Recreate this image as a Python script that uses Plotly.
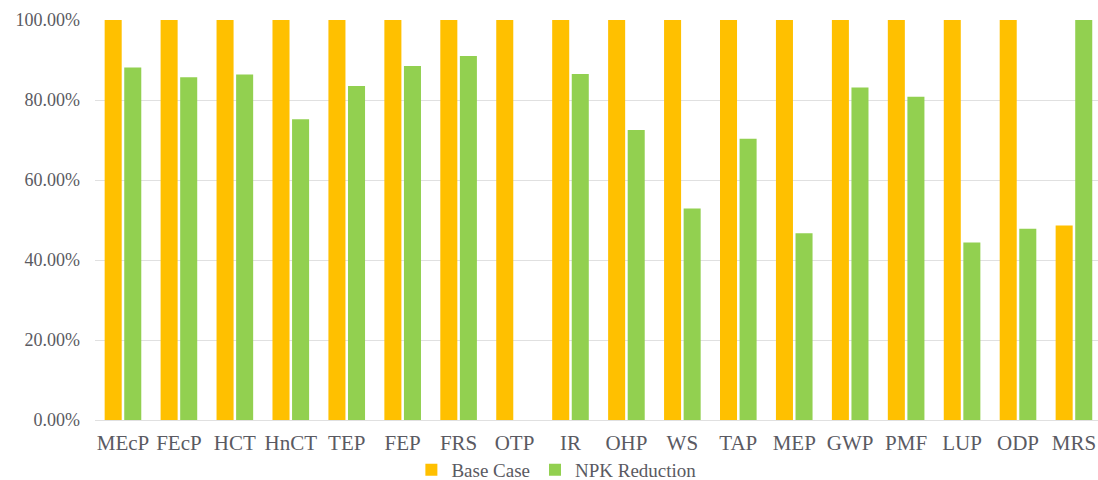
import plotly.graph_objects as go

categories = ["MEcP", "FEcP", "HCT", "HnCT", "TEP", "FEP", "FRS", "OTP", "IR",
              "OHP", "WS", "TAP", "MEP", "GWP", "PMF", "LUP", "ODP", "MRS"]
base_case = [1.0, 1.0, 1.0, 1.0, 1.0, 1.0, 1.0, 1.0, 1.0,
             1.0, 1.0, 1.0, 1.0, 1.0, 1.0, 1.0, 1.0, 0.486]
npk_reduction = [0.881, 0.857, 0.864, 0.752, 0.835, 0.885, 0.910, 0.0, 0.865,
                 0.725, 0.529, 0.703, 0.467, 0.831, 0.808, 0.444, 0.478, 1.0]
y_ticks = [0, 0.2, 0.4, 0.6, 0.8, 1.0]

font_family = "Liberation Serif, Times New Roman, serif"
text_color = "#5A5A62"

fig = go.Figure()
fig.add_trace(go.Bar(x=categories, y=base_case, name="Base Case",
                     marker=dict(color="#FFC000", line=dict(width=0))))
fig.add_trace(go.Bar(x=categories, y=npk_reduction, name="NPK Reduction",
                     marker=dict(color="#92D050", line=dict(width=0))))

fig.update_layout(
    width=1098, height=480,
    margin=dict(l=95, r=0, t=20, b=60, autoexpand=False),
    paper_bgcolor="white", plot_bgcolor="white",
    barmode="group", bargap=0.3, bargroupgap=0.13,
    font=dict(family=font_family, color=text_color, size=16),
    showlegend=True,
    legend=dict(orientation="h", x=0.46, xanchor="center", xref="paper",
                y=0.021, yref="container", yanchor="middle",
                font=dict(size=19, family=font_family, color=text_color),
                itemwidth=30, traceorder="normal"),
    xaxis=dict(range=[-0.5, 17.43], showgrid=False, showline=False, ticks="",
               ticklabelstandoff=8,
               tickfont=dict(size=21, family=font_family, color=text_color)),
    yaxis=dict(range=[0, 1.0], tickvals=y_ticks, tickformat=".2%",
               showgrid=True, gridcolor="#E0E0E0", gridwidth=1,
               zeroline=True, zerolinecolor="#E0E0E0", zerolinewidth=1,
               showline=False, ticks="", ticklabelstandoff=14,
               tickfont=dict(size=18, family=font_family, color=text_color)),
)

fig.write_html("out.html", config={"displayModeBar": False},
               post_script="document.body.style.margin='0';document.body.style.overflow='hidden';")
